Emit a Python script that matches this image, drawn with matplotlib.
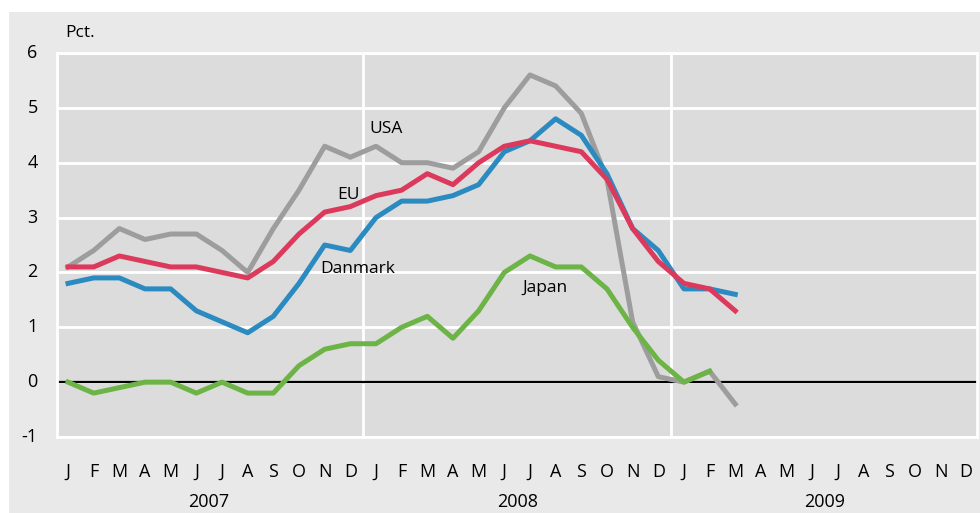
import numpy as np
import matplotlib
matplotlib.use("Agg")
import matplotlib.pyplot as plt
import matplotlib.transforms as mtransforms
from matplotlib.patches import Rectangle

plt.rcParams['font.family'] = ['Open Sans', 'DejaVu Sans']

# month letters for 2007-2009
months = ["J", "F", "M", "A", "M", "J", "J", "A", "S", "O", "N", "D"] * 3
years = ["2007", "2008", "2009"]
yticks = [-1, 0, 1, 2, 3, 4, 5, 6]

# values in pct., Jan 2007 onwards
usa = [2.1, 2.4, 2.8, 2.6, 2.7, 2.7, 2.4, 2.0, 2.8, 3.5, 4.3, 4.1,
       4.3, 4.0, 4.0, 3.9, 4.2, 5.0, 5.6, 5.4, 4.9, 3.7, 1.1, 0.1,
       0.0, 0.2, -0.4]
danmark = [1.8, 1.9, 1.9, 1.7, 1.7, 1.3, 1.1, 0.9, 1.2, 1.8, 2.5, 2.4,
           3.0, 3.3, 3.3, 3.4, 3.6, 4.2, 4.4, 4.8, 4.5, 3.8, 2.8, 2.4,
           1.7, 1.7, 1.6]
eu = [2.1, 2.1, 2.3, 2.2, 2.1, 2.1, 2.0, 1.9, 2.2, 2.7, 3.1, 3.2,
      3.4, 3.5, 3.8, 3.6, 4.0, 4.3, 4.4, 4.3, 4.2, 3.7, 2.8, 2.2,
      1.8, 1.7, 1.3]
japan = [0.0, -0.2, -0.1, 0.0, 0.0, -0.2, 0.0, -0.2, -0.2, 0.3, 0.6, 0.7,
         0.7, 1.0, 1.2, 0.8, 1.3, 2.0, 2.3, 2.1, 2.1, 1.7, 1.0, 0.4,
         0.0, 0.2]

W, H = 980, 513
fig = plt.figure(figsize=(W / 100, H / 100), dpi=100, facecolor="white")
# light grey panel behind everything
panel = Rectangle((9 / W, 0), 1, 1 - 12 / H, transform=fig.transFigure,
                  facecolor="#e9e9e9", edgecolor="none", zorder=-10)
fig.add_artist(panel)

ax = fig.add_axes([57 / W, 1 - 437 / H, (977 - 57) / W, (437 - 53) / H])
ax.set_zorder(1)
ax.set_facecolor("#dcdcdc")
for s in ax.spines.values():
    s.set_color("white")
    s.set_linewidth(2)

ax.set_xlim(-0.43, 35.42)
ax.set_ylim(-1, 6)
ax.set_yticks(yticks)
ax.set_xticks([])
ax.tick_params(left=False, labelleft=False)
ax.yaxis.grid(True, color="white", linewidth=2)
ax.set_axisbelow(True)
for xv in [11.5, 23.5]:
    ax.axvline(xv, color="white", linewidth=2, zorder=1)
ax.axhline(0, color="black", linewidth=1.6, zorder=2)

# tick labels placed by hand so the gaps match the original
xlab = mtransforms.blended_transform_factory(ax.transData, ax.transAxes)
ylab = mtransforms.blended_transform_factory(ax.transAxes, ax.transData)
for i, m in enumerate(months):
    ax.text(i, -0.091, m, transform=xlab, fontsize=13, ha="center", va="center",
            clip_on=False)
for v in yticks:
    ax.text(-0.021, v, str(v), transform=ylab, fontsize=13, ha="right", va="center",
            clip_on=False)
for i, yr in enumerate(years):
    ax.text(5.5 + 12 * i, -0.169, yr, transform=xlab, fontsize=13,
            ha="center", va="center", clip_on=False)

lw = 3.6
ax.plot(range(len(usa)), usa, color="#9d9d9d", lw=lw, zorder=3)
ax.plot(range(len(danmark)), danmark, color="#2b8bc1", lw=lw, zorder=4)
ax.plot(range(len(eu)), eu, color="#dc3a5c", lw=lw, zorder=5)
ax.plot(range(len(japan)), japan, color="#6cb446", lw=lw, zorder=6)

ax.text(11.76, 4.61, "USA", fontsize=12.5, ha="left", va="center")
ax.text(10.51, 3.41, "EU", fontsize=12.5, ha="left", va="center")
ax.text(9.81, 2.06, "Danmark", fontsize=12.5, ha="left", va="center")
ax.text(17.69, 1.71, "Japan", fontsize=12.5, ha="left", va="center")

fig.text(65 / W, 1 - 33 / H, "Pct.", fontsize=12.5, ha="left", va="center")

fig.savefig("out.png", dpi=100, facecolor="white")
